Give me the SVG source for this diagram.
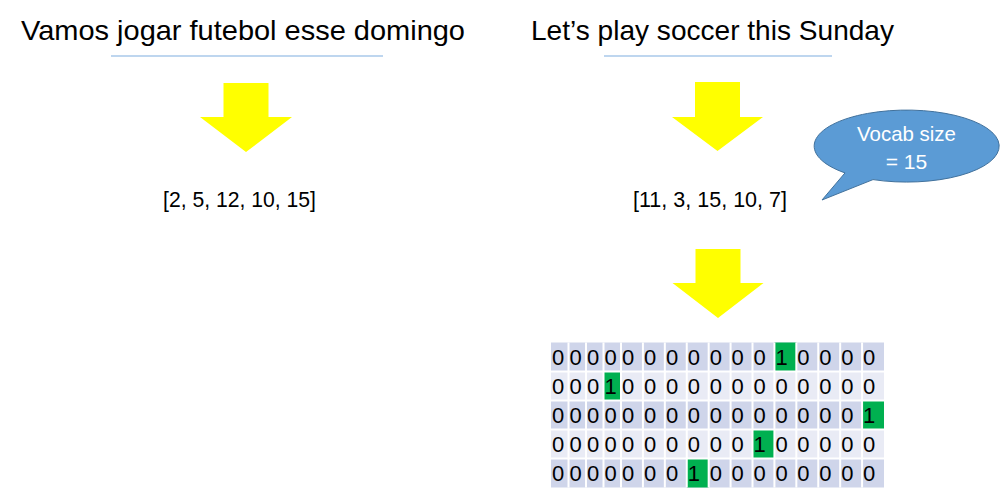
<svg xmlns="http://www.w3.org/2000/svg" width="1000" height="502" viewBox="0 0 1000 502">
<style>
.title{font-family:"Liberation Sans",Arial,sans-serif;font-size:28px;fill:#000}
.list{font-family:"Liberation Sans",Arial,sans-serif;font-size:22px;fill:#000}
.bub{font-family:"Liberation Sans",Arial,sans-serif;font-size:21px;fill:#fff;text-anchor:middle}
.c{font-family:"Liberation Sans",Arial,sans-serif;font-size:22px;fill:#000}
.uline{stroke:#A9C9EA;stroke-width:1.5;fill:none}
.arrow{fill:#FFFF00;stroke:none}
.odd{fill:#CFD5EA}
.even{fill:#E9EBF5}
.one{fill:#00B050}
.grid{stroke:#fff;stroke-width:2;fill:none}
</style>
<rect width="1000" height="502" fill="#fff"/>

<g id="title-pt">
<text class="title" x="21" y="40" textLength="444" lengthAdjust="spacingAndGlyphs">Vamos jogar futebol esse domingo</text>
<line class="uline" x1="111" y1="56" x2="383" y2="56"/>
</g>

<g id="title-en">
<text class="title" x="531" y="40" textLength="363" lengthAdjust="spacingAndGlyphs">Let’s play soccer this Sunday</text>
<line class="uline" x1="604" y1="56" x2="832" y2="56"/>
</g>

<g id="ids-pt">
<text class="list" x="163" y="207" textLength="153" lengthAdjust="spacingAndGlyphs">[2, 5, 12, 10, 15]</text>
</g>

<g id="ids-en">
<text class="list" x="633" y="207" textLength="154" lengthAdjust="spacingAndGlyphs">[11, 3, 15, 10, 7]</text>
</g>

<g id="vocab-callout">
<path d="M845 172.9 L822 200 L873 179.6 A92.5 36 0 1 0 845 172.9 Z" fill="#5B9BD5" stroke="#41719C" stroke-width="1"/>
<text class="bub" x="906.5" y="141" textLength="99" lengthAdjust="spacingAndGlyphs">Vocab size</text>
<text class="bub" x="906.5" y="169">= 15</text>
</g>

<g id="connectors">
<polygon class="arrow" points="223.5,83 268.5,83 268.5,117 292,117 246,152 200,117 223.5,117"/>
<polygon class="arrow" points="695,82 740,82 740,117 763,117 717.5,151 672,117 695,117"/>
<polygon class="arrow" points="695.5,249 740.5,249 740.5,283 763.5,283 718,318 672.5,283 695.5,283"/>
</g>

<g id="onehot-table">
<rect class="odd" x="551" y="342.5" width="333" height="29"/>
<rect class="even" x="551" y="371.5" width="333" height="29"/>
<rect class="odd" x="551" y="400.5" width="333" height="29"/>
<rect class="even" x="551" y="429.5" width="333" height="29"/>
<rect class="odd" x="551" y="458.5" width="333" height="29"/>
<rect class="one" x="774.42" y="342.5" width="21.92" height="29"/>
<rect class="one" x="603.5" y="371.5" width="17.5" height="29"/>
<rect class="one" x="862.08" y="400.5" width="21.92" height="29"/>
<rect class="one" x="752.5" y="429.5" width="21.92" height="29"/>
<rect class="one" x="686.75" y="458.5" width="21.92" height="29"/>
<path class="grid" d="M568.5 342.5V487.5M586 342.5V487.5M603.5 342.5V487.5M621 342.5V487.5M642.92 342.5V487.5M664.83 342.5V487.5M686.75 342.5V487.5M708.67 342.5V487.5M730.58 342.5V487.5M752.5 342.5V487.5M774.42 342.5V487.5M796.33 342.5V487.5M818.25 342.5V487.5M840.17 342.5V487.5M862.08 342.5V487.5M551 371.5H884M551 400.5H884M551 429.5H884M551 458.5H884"/>

<g id="row1">
<text class="c" x="552" y="365">0</text><text class="c" x="569.5" y="365">0</text><text class="c" x="587" y="365">0</text><text class="c" x="604.5" y="365">0</text><text class="c" x="622" y="365">0</text><text class="c" x="644" y="365">0</text><text class="c" x="665.9" y="365">0</text><text class="c" x="687.8" y="365">0</text><text class="c" x="709.7" y="365">0</text><text class="c" x="731.6" y="365">0</text><text class="c" x="753.5" y="365">0</text><text class="c" x="775.4" y="365">1</text><text class="c" x="797.3" y="365">0</text><text class="c" x="819.3" y="365">0</text><text class="c" x="841.2" y="365">0</text><text class="c" x="863.1" y="365">0</text>
</g>
<g id="row2">
<text class="c" x="552" y="394">0</text><text class="c" x="569.5" y="394">0</text><text class="c" x="587" y="394">0</text><text class="c" x="604.5" y="394">1</text><text class="c" x="622" y="394">0</text><text class="c" x="644" y="394">0</text><text class="c" x="665.9" y="394">0</text><text class="c" x="687.8" y="394">0</text><text class="c" x="709.7" y="394">0</text><text class="c" x="731.6" y="394">0</text><text class="c" x="753.5" y="394">0</text><text class="c" x="775.4" y="394">0</text><text class="c" x="797.3" y="394">0</text><text class="c" x="819.3" y="394">0</text><text class="c" x="841.2" y="394">0</text><text class="c" x="863.1" y="394">0</text>
</g>
<g id="row3">
<text class="c" x="552" y="423">0</text><text class="c" x="569.5" y="423">0</text><text class="c" x="587" y="423">0</text><text class="c" x="604.5" y="423">0</text><text class="c" x="622" y="423">0</text><text class="c" x="644" y="423">0</text><text class="c" x="665.9" y="423">0</text><text class="c" x="687.8" y="423">0</text><text class="c" x="709.7" y="423">0</text><text class="c" x="731.6" y="423">0</text><text class="c" x="753.5" y="423">0</text><text class="c" x="775.4" y="423">0</text><text class="c" x="797.3" y="423">0</text><text class="c" x="819.3" y="423">0</text><text class="c" x="841.2" y="423">0</text><text class="c" x="863.1" y="423">1</text>
</g>
<g id="row4">
<text class="c" x="552" y="452">0</text><text class="c" x="569.5" y="452">0</text><text class="c" x="587" y="452">0</text><text class="c" x="604.5" y="452">0</text><text class="c" x="622" y="452">0</text><text class="c" x="644" y="452">0</text><text class="c" x="665.9" y="452">0</text><text class="c" x="687.8" y="452">0</text><text class="c" x="709.7" y="452">0</text><text class="c" x="731.6" y="452">0</text><text class="c" x="753.5" y="452">1</text><text class="c" x="775.4" y="452">0</text><text class="c" x="797.3" y="452">0</text><text class="c" x="819.3" y="452">0</text><text class="c" x="841.2" y="452">0</text><text class="c" x="863.1" y="452">0</text>
</g>
<g id="row5">
<text class="c" x="552" y="481">0</text><text class="c" x="569.5" y="481">0</text><text class="c" x="587" y="481">0</text><text class="c" x="604.5" y="481">0</text><text class="c" x="622" y="481">0</text><text class="c" x="644" y="481">0</text><text class="c" x="665.9" y="481">0</text><text class="c" x="687.8" y="481">1</text><text class="c" x="709.7" y="481">0</text><text class="c" x="731.6" y="481">0</text><text class="c" x="753.5" y="481">0</text><text class="c" x="775.4" y="481">0</text><text class="c" x="797.3" y="481">0</text><text class="c" x="819.3" y="481">0</text><text class="c" x="841.2" y="481">0</text><text class="c" x="863.1" y="481">0</text>
</g>
</g>
</svg>
